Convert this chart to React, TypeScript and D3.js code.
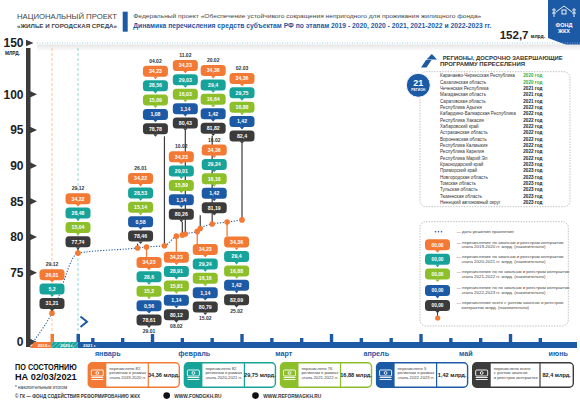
import React from "react";
import * as d3 from "d3";

const FONT = '"Liberation Sans", Arial, Helvetica, sans-serif';
const ORANGE = "#f27a34";
const TEAL = "#17a39a";
const GREEN = "#8dbf2b";
const BLUE = "#1d5aa5";
const DARK = "#3b3b3b";
const TXT = "#333333";

// ---------------- data ----------------
const snapshotDates = [
  "29.12.2019", "29.12.2020", "26.01.2021", "29.01.2021", "04.02.2021", "08.02.2021",
  "10.02.2021", "11.02.2021", "15.02.2021", "16.02.2021", "20.02.2021", "25.02.2021", "02.03.2021",
];
const stage2019_2020 = [26.01, 34.22, 34.22, 34.23, 34.23, 34.23, 34.23, 34.23, 34.23, 34.36, 34.36, 34.36, 34.36];
const stage2020_2021 = [5.2, 28.48, 28.53, 28.6, 28.56, 28.91, 29.01, 29.03, 29.24, 29.24, 29.4, 29.4, 29.75];
const stage2021_2022 = [null, 15.04, 15.14, 15.2, 15.09, 15.81, 15.89, 16.03, 16.16, 16.16, 16.64, 16.88, 16.88];
const stage2022_2023 = [null, null, 0.58, 0.56, 1.08, 1.14, 1.14, 1.14, 1.14, 1.42, 1.42, 1.42, 1.42];
const totalTransferred = [31.21, 77.74, 78.46, 78.61, 78.78, 80.12, 80.26, 80.43, 80.79, 81.19, 81.82, 82.09, 82.4];

const yTicks = [0, 75, 80, 85, 90, 95, 100, 150];
const monthNames = ["январь", "февраль", "март", "апрель", "май", "июнь"];
const yearLabels = ["2019 г.", "2020 г.", "2021 г."];

const regionNames = [
  "Карачаево-Черкесская Республика", "Сахалинская область", "Чеченская Республика",
  "Магаданская область", "Саратовская область", "Республика Адыгея",
  "Кабардино-Балкарская Республика", "Республика Хакасия", "Хабаровский край",
  "Астраханская область", "Воронежская область", "Республика Калмыкия",
  "Республика Карелия", "Республика Марий Эл", "Краснодарский край", "Приморский край",
  "Новгородская область", "Томская область", "Тульская область", "Тюменская область",
  "Ненецкий автономный округ",
];
const regionYears = [
  "2020 год", "2020 год", "2021 год", "2021 год", "2021 год", "2022 год", "2022 год",
  "2022 год", "2022 год", "2022 год", "2022 год", "2022 год", "2022 год", "2022 год",
  "2023 год", "2023 год", "2023 год", "2023 год", "2023 год", "2023 год", "2023 год",
];

const legendLines = [
  ["— перечисление по авансам и реестрам контрактов", "этапа 2019-2020 гг. млрд. (накопительно)"],
  ["— перечисление по авансам и реестрам контрактов", "этапа 2020-2021 гг. млрд. (накопительно)"],
  ["— перечисление по по авансам и реестрам контрактов", "этапа 2021-2022 гг. млрд. (накопительно)"],
  ["— перечисление по по авансам и реестрам контрактов", "этапа 2022-2023 гг. млрд. (накопительно)"],
  ["— перечисление всего с учетом авансов и реестров", "контрактов млрд. (накопительно)"],
];

const cardTexts = [
  ["перечислено 82", "регионам в рамках", "этапа 2019-2020 гг."],
  ["перечислено 82", "регионам в рамках", "этапа 2020-2021 гг."],
  ["перечислено 76", "регионам в рамках", "этапа 2021-2022 гг."],
  ["перечислено 5", "регионам в рамках", "этапа 2022-2023 гг."],
  ["перечислено всего", "с учетом авансов", "и реестров контрактов"],
];
const cardValues = ["34,36 млрд.", "29,75 млрд.", "16,88 млрд.", "1,42 млрд.", "82,4 млрд."];
const totalFunding = "152,7";

// ------------- layout (annotation offsets, px from the dot) -------------
const calloutDx = [0, 0, 3, 2.5, -9, 0, -1, 0, 8, 14, 1, 9.5, 0];
const calloutDy = [-44, -60, -75, 10, -180, 15.5, -84, -174, 12.6, -84, -159, 14.5, -147];

const BOX_W = 25;
const BOX_H = 11;
const PITCH = 14.4;

// ---------------- scales ----------------
const y = d3.scaleLinear().domain([0, 75, 100, 150]).range([342, 272.7, 94.3, 43]);
const xTime = d3.scaleTime().domain([new Date(2021, 0, 1), new Date(2021, 6, 1)]).range([63, 603]);
const xStage = d3.scaleLinear().domain([2018, 2019, 2020]).range([33, 52, 78]);

const parseDate = d3.timeParse("%d.%m.%Y");
const fmtLabel = d3.timeFormat("%d.%m");
const fmtNum = (v: number) => String(v).replace(".", ",");

const stageColors = [ORANGE, TEAL, GREEN, BLUE, DARK];

function posX(d: Date) {
  return d.getFullYear() < 2021 ? xStage(d.getFullYear()) : xTime(d);
}

function Box({ cx, top, color, text, size = 5.2 }: any) {
  return (
    <g>
      <rect x={cx - BOX_W / 2} y={top} width={BOX_W} height={BOX_H} rx={3.5} fill={color} />
      <path d={`M${cx - 2.2},${top + BOX_H - 0.2} L${cx + 2.2},${top + BOX_H - 0.2} L${cx},${top + BOX_H + 2.4} Z`} fill={color} />
      <text x={cx} y={top + BOX_H / 2} dy="0.36em" textAnchor="middle" fill="#fff" fontSize={size} fontWeight="bold">
        {text}
      </text>
    </g>
  );
}

function MoneyIcon({ x, y: yy }: any) {
  return (
    <g fill="none" stroke="#fff" strokeWidth={0.9}>
      <rect x={x - 6} y={yy - 5} width={12} height={6} rx={1} />
      <circle cx={x} cy={yy - 2} r={1.4} />
      <path d={`M${x - 6},${yy + 2.5} H${x + 6} M${x - 6},${yy + 4.5} H${x + 6}`} />
    </g>
  );
}

export default function App() {
  const dates = snapshotDates.map((s) => parseDate(s) as Date);
  const points = dates.map((d, i) => ({
    date: d,
    x: posX(d),
    y: y(totalTransferred[i]),
    label: fmtLabel(d),
    values: [stage2019_2020[i], stage2020_2021[i], stage2021_2022[i], stage2022_2023[i], totalTransferred[i]],
  }));

  const curvePts: [number, number][] = [[xStage(2018), y(0)], ...points.map((p) => [p.x, p.y] as [number, number])];
  const curvePath = d3.line().curve(d3.curveMonotoneX)(curvePts) as string;

  // axis bumps every 10 days starting 11 Jan, each third is tall
  const bumpDates = d3.range(0, 16).map((k) => d3.timeDay.offset(new Date(2021, 0, 11), k * 10));
  const midMonths = monthNames.map((_, m) => new Date(2021, m, m === 1 ? 14 : 16));

  const cardBand = d3.scaleBand().domain(d3.range(5).map(String)).range([88.3, 563.7]).paddingInner(0.053);

  const stacks = points.map((p, i) => {
    const entries = p.values
      .map((v, k) => ({ v, color: stageColors[k] }))
      .filter((e) => e.v !== null && e.v !== undefined) as { v: number; color: string }[];
    const cx = p.x + calloutDx[i];
    const top = p.y + calloutDy[i];
    const bottom = top + (entries.length - 1) * PITCH + BOX_H;
    const below = calloutDy[i] > 0;
    return { p, entries, cx, top, bottom, below };
  });

  const axisY = y(0);
  const yearMid2019 = (xStage(2018) + xStage(2019)) / 2;
  const yearMid2020 = (xStage(2019) + xStage(2020)) / 2;

  return (
    <svg
      width={580}
      height={410}
      viewBox="0 0 580 410"
      style={{ position: "absolute", left: 0, top: 0, display: "block", background: "#fff" }}
      fontFamily={FONT}
    >
      <defs>
        <pattern id="hatch" width="3" height="3" patternUnits="userSpaceOnUse" patternTransform="rotate(45)">
          <rect width="3" height="3" fill={TEAL} />
          <rect width="1" height="3" fill="#5cc4bc" />
        </pattern>
        <linearGradient id="band" x1="0" y1="0" x2="0" y2="1">
          <stop offset="0" stopColor="#e6e6e6" />
          <stop offset="1" stopColor="#ffffff" />
        </linearGradient>
      </defs>

      {/* ---------- header ---------- */}
      <text x={17} y={18.5} fontSize={8} fill="#444" textLength={100} lengthAdjust="spacingAndGlyphs">НАЦИОНАЛЬНЫЙ ПРОЕКТ</text>
      <text x={17} y={27.5} fontSize={5.8} fontWeight="bold" fill="#444" textLength={100} lengthAdjust="spacingAndGlyphs">«ЖИЛЬЕ И ГОРОДСКАЯ СРЕДА»</text>
      <rect x={122.7} y={11.7} width={5} height={20} fill={BLUE} />
      <text x={133.3} y={18.3} fontSize={6.1} fill="#444" textLength={348} lengthAdjust="spacingAndGlyphs">
        Федеральный проект «Обеспечение устойчивого сокращения  непригодного для проживания жилищного фонда»
      </text>
      <text x={133.3} y={28.3} fontSize={6.3} fontWeight="bold" fill={BLUE} textLength={358} lengthAdjust="spacingAndGlyphs">
        Динамика перечисления средств субъектам РФ по этапам 2019 - 2020, 2020 - 2021, 2021-2022 и 2022-2023 гг.
      </text>
      <text x={528.5} y={38.5} fontSize={11.5} fontWeight="bold" fill="#222" textAnchor="end">{totalFunding}</text>
      <text x={530.7} y={38.3} fontSize={5} fontWeight="bold" fill="#222">млрд.</text>

      {/* logo */}
      <path d="M548,0 H580 V50 L548,38 Z" fill={BLUE} />
      <g fill="none" stroke="#fff" strokeWidth={0.9}>
        <path d="M556,12 L564,6 L572,12" />
        <rect x={562} y={10} width={4} height={4} />
        <circle cx={554} cy={10} r={1.2} />
        <path d="M554,11.5 V17 M552,13 L556,13" />
        <circle cx={574} cy={10} r={1.2} />
        <path d="M574,11.5 V17 M572,13 L576,13" />
      </g>
      <text x={564} y={27} fontSize={5.5} fontWeight="bold" fill="#fff" textAnchor="middle">ФОНД</text>
      <text x={564} y={33} fontSize={5.5} fontWeight="bold" fill="#fff" textAnchor="middle">ЖКХ</text>

      {/* ---------- plot background ---------- */}
      <rect x={37} y={y(150) + 1.5} width={543} height={7} fill="url(#band)" />
      <line x1={37} x2={580} y1={y(150)} y2={y(150)} stroke="#8fbfe0" strokeWidth={0.8} strokeDasharray="1 1.5" />

      {/* stage dashed verticals */}
      <line x1={xStage(2019)} x2={xStage(2019)} y1={48} y2={axisY} stroke="#f6b58a" strokeWidth={0.8} strokeDasharray="3 2" />
      <line x1={xStage(2020)} x2={xStage(2020)} y1={48} y2={axisY} stroke="#77cfc8" strokeWidth={0.8} strokeDasharray="3 2" />

      {/* ---------- y axis ---------- */}
      <rect x={26} y={48} width={4.5} height={axisY + 5 - 48} fill={DARK} />
      <text x={5} y={55.2} fontSize={4.8} fontWeight="bold" fill="#222">МЛРД.</text>
      {yTicks.map((t) => (
        <g key={t}>
          <path d={`M${t === 150 ? 26 : 30},${y(t) - 3.3} L${t === 150 ? 33.5 : 37},${y(t)} L${t === 150 ? 26 : 30},${y(t) + 3.3} Z`} fill={DARK} />
          <text x={23.5} y={y(t)} dy="0.36em" textAnchor="end" fontSize={12} fontWeight="bold" fill="#222">{t}</text>
        </g>
      ))}

      {/* ---------- bottom time axis ---------- */}
      <path d={`M30,${axisY + 6} L34,${axisY} H${xStage(2019)} V${axisY + 6} Z`} fill={ORANGE} />
      <rect x={xStage(2019) - 1.5} y={axisY - 8} width={3.5} height={8} fill={ORANGE} />
      <rect x={xStage(2019)} y={axisY} width={xStage(2020) - xStage(2019)} height={6} fill="url(#hatch)" />
      <rect x={xStage(2020)} y={axisY} width={577 - xStage(2020)} height={6} fill={BLUE} />
      <rect x={xStage(2020) - 1.5} y={axisY - 8} width={3.5} height={8} fill={BLUE} />
      {bumpDates.map((d, k) => {
        const tall = k % 3 === 2;
        const h = tall ? 8 : 4;
        return <rect key={k} x={xTime(d) - 1.7} y={axisY - h} width={3.4} height={h} fill={BLUE} />;
      })}
      <text x={yearMid2019 + 2} y={axisY + 4.6} fontSize={4.3} fontWeight="bold" fill="#fff" textAnchor="middle">{yearLabels[0]}</text>
      <text x={yearMid2020 + 2} y={axisY + 4.6} fontSize={4.3} fontWeight="bold" fill="#fff" textAnchor="middle">{yearLabels[1]}</text>
      <text x={xStage(2020) + 5} y={axisY + 4.6} fontSize={4.3} fontWeight="bold" fill="#fff">{yearLabels[2]}</text>
      <path d={`M80.5,${axisY - 25.5} L87,${axisY - 20.3} L80.5,${axisY - 15}`} fill="none" stroke={BLUE} strokeWidth={2} />
      {midMonths.map((d, m) => (
        <text key={m} x={xTime(d)} y={355.5} fontSize={7.2} fontWeight="bold" fill={BLUE} textAnchor="middle">{monthNames[m]}</text>
      ))}

      {/* ---------- connectors ---------- */}
      {stacks.map((s, i) =>
        s.below ? (
          <line key={i} x1={s.p.x} x2={s.p.x} y1={s.p.y} y2={s.top} stroke={ORANGE} strokeWidth={1.3} />
        ) : (
          <line key={i} x1={s.p.x} x2={s.p.x} y1={s.bottom + 2} y2={s.p.y} stroke={DARK} strokeWidth={1.2} />
        )
      )}

      {/* cumulative dotted curve */}
      <path d={curvePath} fill="none" stroke={BLUE} strokeWidth={1.1} strokeDasharray="1.2 1.6" />
      {points.map((p, i) => (
        <circle key={i} cx={p.x} cy={p.y} r={2.8} fill={ORANGE} />
      ))}

      {/* ---------- stacks ---------- */}
      {stacks.map((s, i) => (
        <g key={i}>
          {s.entries.map((e, k) => (
            <Box key={k} cx={s.cx} top={s.top + k * PITCH} color={e.color} text={fmtNum(e.v)} />
          ))}
          <text
            x={s.cx}
            y={s.below ? s.bottom + 7.5 : s.top - 3}
            fontSize={5}
            fontWeight="bold"
            fill={TXT}
            textAnchor="middle"
          >
            {s.p.label}
          </text>
        </g>
      ))}

      {/* ---------- regions panel ---------- */}
      <path d="M421,67.5 L426,60 H431.5 L426.5,67.5 Z" fill={BLUE} />
      <path d="M426.5,59.5 L431.8,54 L437,59.5 Z" fill={BLUE} />
      <text x={442.7} y={59.5} fontSize={5.8} fontWeight="bold" fill="#333" textLength={120} lengthAdjust="spacingAndGlyphs">РЕГИОНЫ, ДОСРОЧНО ЗАВЕРШАЮЩИЕ</text>
      <text x={440} y={66.3} fontSize={5.8} fontWeight="bold" fill="#333" textLength={85} lengthAdjust="spacingAndGlyphs">ПРОГРАММУ ПЕРЕСЕЛЕНИЯ</text>
      <rect x={420} y={71.7} width={150} height={135} rx={6} fill="none" stroke="#999" strokeWidth={0.6} strokeDasharray="1.5 1.2" />
      <circle cx={418.3} cy={85.3} r={12} fill={BLUE} stroke="#fff" strokeWidth={1} />
      <text x={418.3} y={86} fontSize={9} fontWeight="bold" fill="#fff" textAnchor="middle">21</text>
      <text x={418.3} y={91.3} fontSize={3.4} fontWeight="bold" fill="#fff" textAnchor="middle">РЕГИОН</text>
      {regionNames.map((n, i) => {
        const ry = 75.7 + i * 6.33 + 1.7;
        return (
          <g key={i}>
            <text x={440} y={ry} fontSize={4.6} fill="#333">{n}</text>
            <text x={523.3} y={ry} fontSize={4.6} fontWeight="bold" fill={regionYears[i].startsWith("2020") ? "#3aaa35" : "#222"}>{regionYears[i]}</text>
          </g>
        );
      })}

      {/* ---------- legend ---------- */}
      <rect x={420} y={221.7} width={148.3} height={104.3} rx={6} fill="none" stroke="#999" strokeWidth={0.6} strokeDasharray="1.5 1.2" />
      {[0, 1, 2].map((k) => (
        <circle key={k} cx={435.5 + k * 3} cy={231.7} r={0.8} fill={BLUE} />
      ))}
      <text x={456.5} y={233.3} fontSize={4.4} fill="#444">— дата решения правления</text>
      {stageColors.map((c, k) => {
        const tops = [239.3, 253.8, 268.6, 285, 300];
        const t = tops[k];
        return (
          <g key={k}>
            <Box cx={437.5} top={t} color={c} text="00,00" size={4.8} />
            <text x={456.5} y={t + 4.3} fontSize={4.4} fill="#444">{legendLines[k][0]}</text>
            <text x={461.5} y={t + 9} fontSize={4.4} fill="#444">{legendLines[k][1]}</text>
          </g>
        );
      })}
      <line x1={437.5} x2={437.5} y1={313} y2={317.7} stroke={DARK} strokeWidth={1} />
      <circle cx={437.7} cy={318} r={2.6} fill={ORANGE} />

      {/* ---------- bottom block ---------- */}
      <text x={15} y={370.2} fontSize={8.6} fontWeight="bold" fill="#111" textLength={61.7} lengthAdjust="spacingAndGlyphs">ПО СОСТОЯНИЮ</text>
      <text x={15} y={380.4} fontSize={9.4} fontWeight="bold" fill="#111" textLength={61.7} lengthAdjust="spacingAndGlyphs">НА 02/03/2021</text>
      <text x={15} y={389} fontSize={4.6} fill="#333">* накопительным итогом</text>
      <text x={15} y={397.5} fontSize={4.6} fontWeight="bold" fill="#333" textLength={125} lengthAdjust="spacingAndGlyphs">© ГК — ФОНД СОДЕЙСТВИЯ РЕФОРМИРОВАНИЮ ЖКХ</text>
      <circle cx={166.7} cy={395.6} r={3.3} fill="#111" />
      <text x={174.3} y={397.5} fontSize={4.8} fontWeight="bold" fill="#333">WWW.FONDGKH.RU</text>
      <circle cx={255.5} cy={395.6} r={3.3} fill="#111" />
      <text x={263.3} y={397.5} fontSize={4.8} fontWeight="bold" fill="#333">WWW.REFORMAGKH.RU</text>

      {cardValues.map((v, k) => {
        const x0 = cardBand(String(k)) as number;
        const extra = k === 4 ? 9.6 : 0;
        const w = cardBand.bandwidth() + extra;
        const c = stageColors[k];
        const top = 362.7;
        const h = 24.6;
        const valW = k === 4 ? 33.3 : 31;
        const div = x0 + w - valW;
        return (
          <g key={k}>
            <rect x={x0} y={top} width={w} height={h} rx={4} fill="#fff" stroke={c} strokeWidth={1.4} />
            <path d={`M${x0 + 4},${top} H${x0 + 18} V${top + h} H${x0 + 4} A4,4 0 0 1 ${x0},${top + h - 4} V${top + 4} A4,4 0 0 1 ${x0 + 4},${top} Z`} fill={c} />
            <MoneyIcon x={x0 + 9} y={top + h / 2} />
            <line x1={div} x2={div} y1={top} y2={top + h} stroke={c} strokeWidth={1.2} />
            {cardTexts[k].map((l, j) => (
              <text key={j} x={x0 + 21} y={top + 7 + j * 4.7} fontSize={4.2} fill="#444">{l}</text>
            ))}
            <text x={div + valW / 2} y={top + h / 2 + 2} fontSize={5.6} fontWeight="bold" fill="#222" textAnchor="middle">{v}</text>
          </g>
        );
      })}
    </svg>
  );
}
